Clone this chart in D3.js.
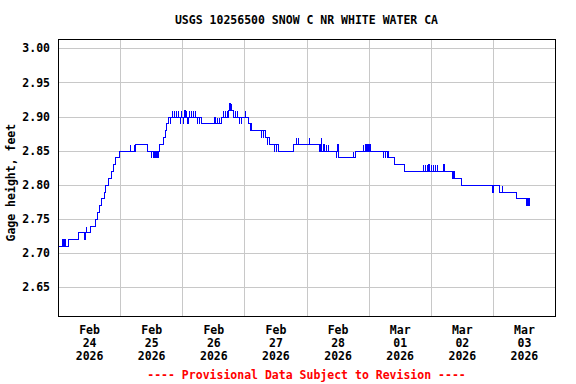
<!DOCTYPE html>
<html lang="en">
<head>
<meta charset="UTF-8">
<script src="https://d3js.org/d3.v7.min.js"></script>
<title>USGS 10256500</title>
<style>
    body { margin: 0; background: #fff; }
    text { font-family: "DejaVu Sans Mono", "Liberation Mono", monospace; font-weight: bold; font-size: 11.5px; }
</style>
</head>
<body>
<svg id="chart" width="576" height="384"></svg>
<script>
    // gage height change points: hours after Feb 24 2026 00:00 -> feet (step after)
    const stepHours = [
        0, 1.4, 1.8, 2.5, 2.6, 3.9, 7.8, 10.2, 10.3, 10.8, 10.9, 12.5, 14.4, 15.0, 15.9, 16.5, 17.7, 18.3, 19.5, 20.3, 21.4, 22.2, 23.4,
        27.7, 27.8, 29.2, 29.3, 29.9, 34.4, 36.0, 36.1, 36.8, 36.9, 37.6, 37.7, 38.4, 38.5, 39.0, 40.6, 41.2, 41.9, 42.5,
        43.3, 43.4, 44.0, 44.1, 44.8, 44.9, 45.6, 45.7, 46.4, 46.5, 47.0, 47.1, 47.6, 47.7, 48.2, 48.3, 48.8, 48.9, 49.4, 49.5, 50.0, 50.1, 50.6, 50.7, 51.2, 51.3, 52.2, 52.3, 53.0, 53.1, 53.6, 53.7, 54.5, 54.6, 55.2,
        60.4, 60.5, 61.4, 61.5, 62.2, 62.3, 63.0, 63.6, 63.7, 64.4, 64.5, 65.2, 65.3, 65.8, 66.2, 66.3, 66.9, 67.0, 67.7, 68.3, 68.4, 69.1, 69.2, 69.9, 70.0, 70.7, 70.8, 72.1, 72.2, 73.4,
        74.0, 74.1, 74.6, 78.4, 78.5, 79.2, 79.3, 80.0, 80.6, 80.7, 81.4, 83.4, 83.5, 84.2, 84.3, 85.0, 90.7, 91.9, 92.0, 92.7, 92.8, 96.8, 96.9,
        100.9, 101.3, 101.5, 101.7, 102.5, 102.6, 103.4, 103.5, 104.2, 104.3, 107.4, 107.5, 107.9, 108.0, 108.3, 113.9, 114.0, 114.7, 117.8, 117.9, 118.6, 119.1, 119.5, 119.6, 120.3, 120.4,
        125.4, 125.5, 126.2, 126.3, 127.0, 127.1, 127.6, 129.8, 133.8, 140.9, 141.0, 141.7, 141.8, 142.5, 142.6, 143.1, 143.5, 144.1, 144.2, 144.9, 145.0, 145.7, 145.8, 146.5, 146.6, 148.9, 149.0,
        152.3, 152.5, 152.8, 155.7, 167.8, 167.9, 170.2, 171.4, 171.5, 177.0, 180.7, 180.9, 181.3, 181.5, 181.8
    ];
    const stepValues = [
        2.71, 2.72, 2.71, 2.72, 2.71, 2.72, 2.73, 2.72, 2.73, 2.74, 2.73, 2.74, 2.75, 2.76, 2.77, 2.78, 2.79, 2.80, 2.81, 2.82, 2.83, 2.84, 2.85,
        2.86, 2.85, 2.86, 2.85, 2.86, 2.85, 2.84, 2.85, 2.84, 2.85, 2.84, 2.85, 2.84, 2.85, 2.86, 2.87, 2.88, 2.89, 2.90,
        2.89, 2.90, 2.91, 2.90, 2.91, 2.90, 2.91, 2.90, 2.91, 2.90, 2.89, 2.90, 2.91, 2.90, 2.89, 2.90, 2.91, 2.90, 2.91, 2.90, 2.89, 2.90, 2.91, 2.90, 2.91, 2.90, 2.91, 2.90, 2.91, 2.90, 2.89, 2.90, 2.89, 2.90, 2.89,
        2.90, 2.89, 2.90, 2.89, 2.90, 2.89, 2.90, 2.91, 2.90, 2.91, 2.90, 2.91, 2.90, 2.91, 2.92, 2.91, 2.92, 2.91, 2.90, 2.91, 2.90, 2.91, 2.90, 2.89, 2.90, 2.89, 2.90, 2.91, 2.90, 2.89,
        2.88, 2.89, 2.88, 2.87, 2.88, 2.87, 2.88, 2.87, 2.86, 2.87, 2.86, 2.85, 2.86, 2.85, 2.86, 2.85, 2.86, 2.87, 2.86, 2.87, 2.86, 2.87, 2.86,
        2.85, 2.86, 2.87, 2.85, 2.86, 2.85, 2.86, 2.85, 2.86, 2.85, 2.84, 2.85, 2.86, 2.85, 2.84, 2.85, 2.84, 2.85, 2.86, 2.85, 2.86, 2.85, 2.86, 2.85, 2.86, 2.85,
        2.84, 2.85, 2.84, 2.85, 2.84, 2.85, 2.84, 2.83, 2.82, 2.83, 2.82, 2.83, 2.82, 2.83, 2.82, 2.83, 2.82, 2.83, 2.82, 2.83, 2.82, 2.83, 2.82, 2.83, 2.82, 2.83, 2.82,
        2.81, 2.82, 2.81, 2.80, 2.79, 2.80, 2.79, 2.80, 2.79, 2.78, 2.77, 2.78, 2.77, 2.78, 2.77
    ];
    const yTicks = [2.65, 2.70, 2.75, 2.80, 2.85, 2.90, 2.95, 3.00];
    const xDays = ["2026-02-24", "2026-02-25", "2026-02-26", "2026-02-27", "2026-02-28", "2026-03-01", "2026-03-02", "2026-03-03"];

    const title = "USGS 10256500 SNOW C NR WHITE WATER CA";
    const yLabel = "Gage height, feet";
    const note = "---- Provisional Data Subject to Revision ----";

    const plotL = 58, plotR = 555, plotT = 39.3, plotB = 316;
    const start = new Date(2026, 1, 24);
    const end = new Date(2026, 2, 4);

    const svg = d3.select("#chart");

    const x = d3.scaleTime().domain([start, end]).range([plotL, plotR]);
    const y = d3.scaleLinear().domain([2.6075, 3.0132]).range([plotB, plotT]);

    const parseDay = d3.timeParse("%Y-%m-%d");
    const days = xDays.map(parseDay);
    const noons = days.map(d => d3.timeHour.offset(d, 12));

    const fontStyle = g => g.style("font-size", "11.5px")
        .style("font-family", "'DejaVu Sans Mono', monospace").style("font-weight", "bold");

    // grid
    svg.append("g")
        .attr("transform", `translate(0,${plotB})`)
        .call(d3.axisBottom(x).tickValues(days.slice(1)).tickSize(-(plotB - plotT)).tickFormat(""))
        .call(g => g.select(".domain").remove())
        .call(g => g.selectAll("line").attr("stroke", "#c8c8c8").attr("shape-rendering", "crispEdges"));

    svg.append("g")
        .attr("transform", `translate(${plotL},0)`)
        .call(d3.axisLeft(y).tickValues(yTicks).tickSize(-(plotR - plotL)).tickFormat(""))
        .call(g => g.select(".domain").remove())
        .call(g => g.selectAll("line").attr("stroke", "#c8c8c8").attr("shape-rendering", "crispEdges"));

    // y tick labels
    svg.append("g")
        .attr("transform", `translate(${plotL},0)`)
        .call(d3.axisLeft(y).tickValues(yTicks).tickSize(0).tickPadding(8).tickFormat(d3.format(".2f")))
        .call(g => g.select(".domain").remove())
        .call(g => fontStyle(g.selectAll("text").attr("fill", "#000")));

    // x tick labels, three lines each
    const xAxis = svg.append("g")
        .attr("transform", `translate(0,${plotB})`)
        .call(d3.axisBottom(x).tickValues(noons).tickSize(0).tickFormat(""));
    xAxis.select(".domain").remove();
    xAxis.selectAll(".tick").each(function (d) {
        const t = d3.select(this).select("text").attr("y", 18).attr("dy", null).attr("fill", "#000");
        fontStyle(t);
        [d3.timeFormat("%b")(d), d3.timeFormat("%d")(d), d3.timeFormat("%Y")(d)].forEach((s, i) => {
            t.append("tspan").attr("x", 0).attr("y", 18 + i * 13).text(s);
        });
    });

    // data line, snapped to whole pixels like the bitmap original
    const pts = stepHours.map((h, i) => [d3.timeMinute.offset(start, Math.round(h * 60)), stepValues[i]]);
    svg.append("path")
        .datum(pts)
        .attr("fill", "none")
        .attr("stroke", "#0000ff")
        .attr("stroke-width", 1)
        .attr("shape-rendering", "crispEdges")
        .attr("d", d3.line()
            .x(d => Math.round(x(d[0])) + 0.5)
            .y(d => Math.round(y(d[1])) + 0.5)
            .curve(d3.curveStepAfter));

    // frame
    svg.append("rect")
        .attr("x", plotL).attr("y", plotT)
        .attr("width", plotR - plotL).attr("height", plotB - plotT)
        .attr("fill", "none").attr("stroke", "#000").attr("stroke-width", 1)
        .attr("shape-rendering", "crispEdges");

    svg.append("text")
        .attr("x", (plotL + plotR) / 2).attr("y", 24)
        .attr("text-anchor", "middle")
        .text(title);

    svg.append("text")
        .attr("transform", `translate(14.5,${(plotT + plotB) / 2 + 5}) rotate(-90)`)
        .attr("text-anchor", "middle")
        .text(yLabel);

    svg.append("text")
        .attr("x", (plotL + plotR) / 2).attr("y", 379)
        .attr("text-anchor", "middle")
        .attr("fill", "#ff0000")
        .text(note);
</script>
</body>
</html>
